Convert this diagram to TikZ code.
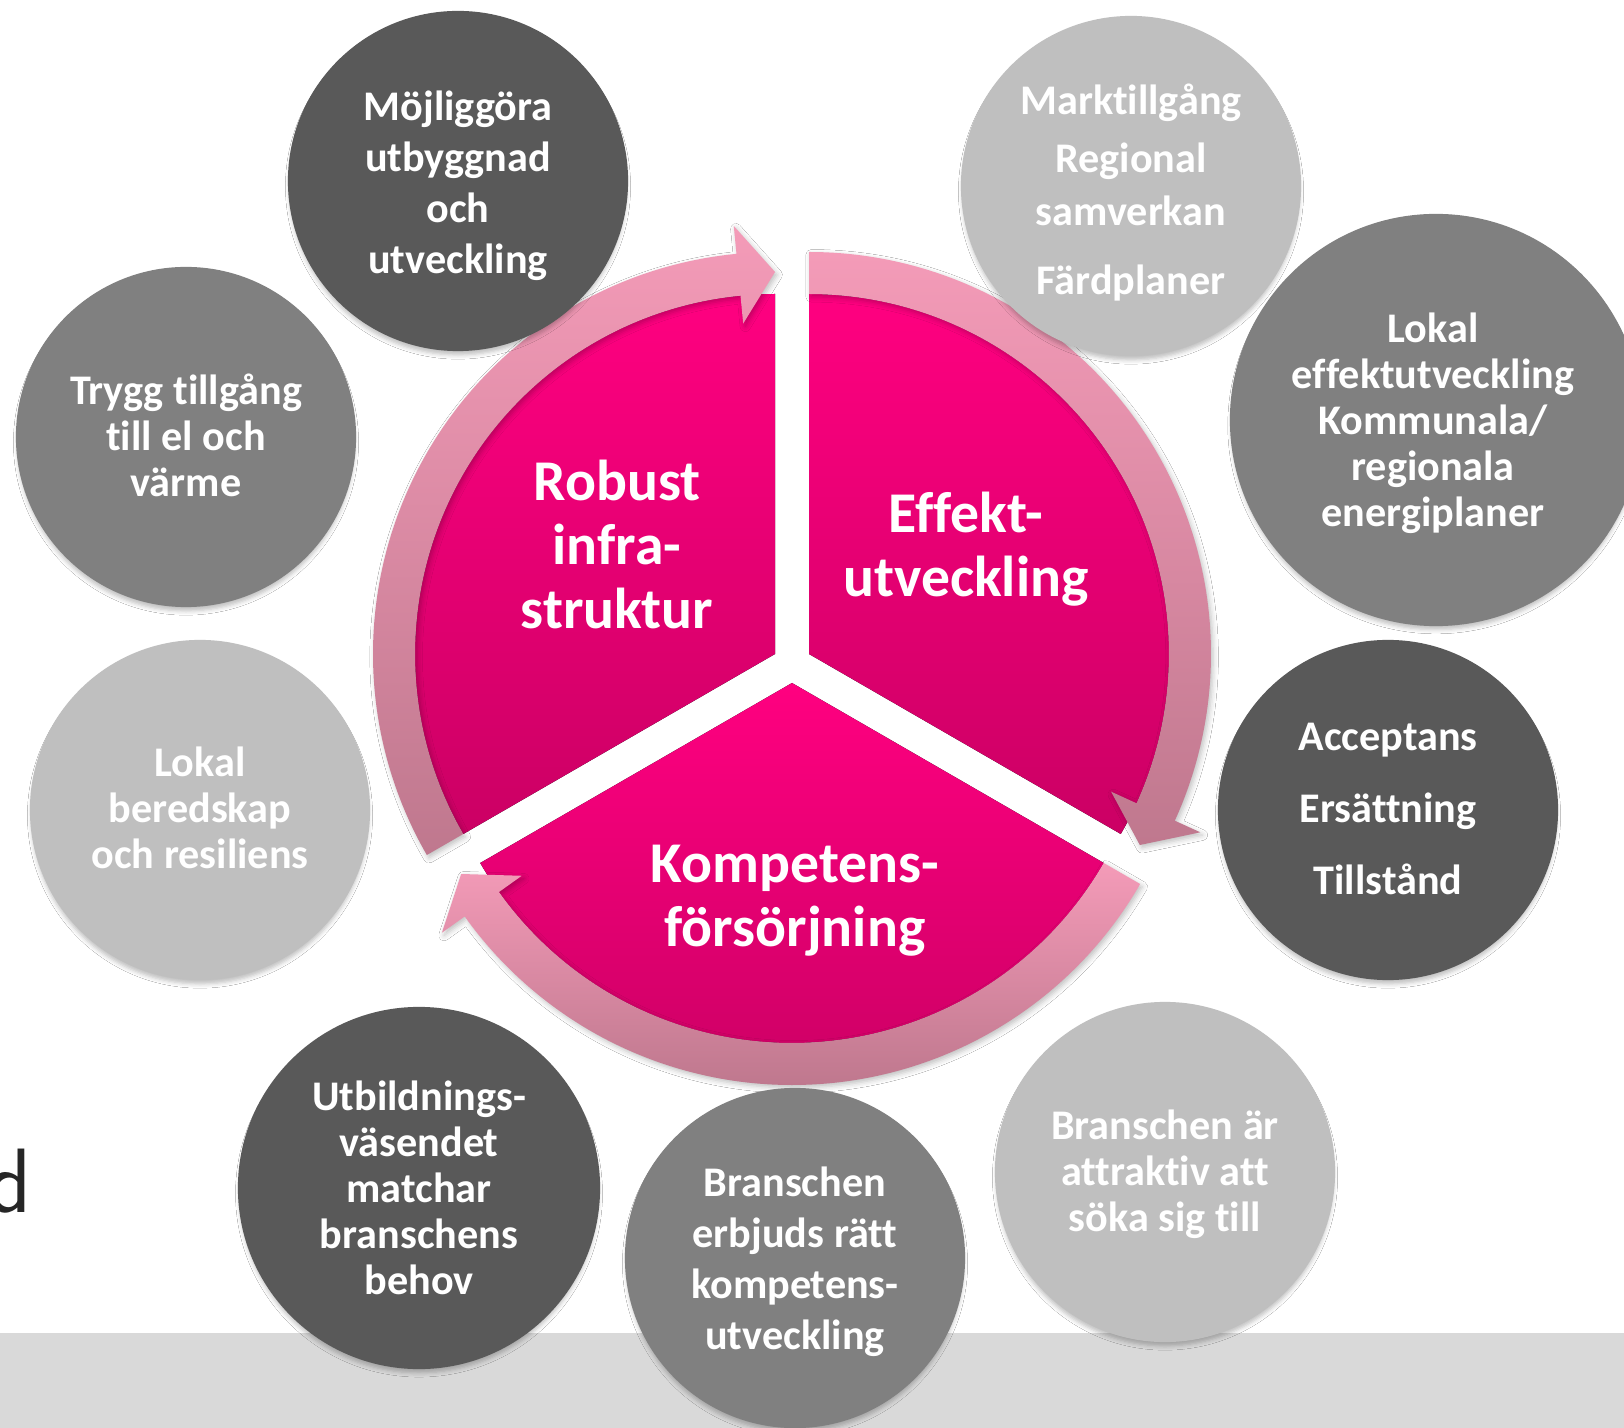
\documentclass[tikz,border=0pt]{standalone}
\usepackage{fontspec}
\setmainfont{Carlito}[Ligatures=NoCommon]
\usetikzlibrary{shadows.blur}

\definecolor{segTop}{HTML}{FF0080}
\definecolor{segBot}{HTML}{CB0064}
\definecolor{ringTop}{HTML}{F49BB8}
\definecolor{ringBot}{HTML}{BF788E}
\definecolor{greyDark}{HTML}{595959}
\definecolor{greyMid}{HTML}{808080}
\definecolor{greyLight}{HTML}{BFBFBF}
\definecolor{barGrey}{HTML}{D9D9D9}
\definecolor{textDark}{HTML}{262626}

\tikzset{
  segment/.style={top color=segTop, bottom color=segBot},
  ringarrow/.style={top color=ringTop, bottom color=ringBot,
    blur shadow={shadow xshift=0.6pt, shadow yshift=-0.8pt, shadow blur radius=1.5pt, shadow opacity=25}},
  seglabel/.style={text=white, align=center, inner sep=0pt,
    font=\bfseries\fontsize{16.4}{18.2}\selectfont},
  bubble/.style={circle, inner sep=0pt, minimum size=3.4cm,
    blur shadow={shadow xshift=0pt, shadow yshift=-1.6pt, shadow blur radius=1.2pt,
      shadow opacity=25, shadow scale=0.99}},
  darkbubble/.style={bubble, fill=greyDark},
  midbubble/.style={bubble, fill=greyMid},
  lightbubble/.style={bubble, fill=greyLight},
  bubbletext/.style={text=white, align=center, inner sep=0pt,
    font=\bfseries\fontsize{12}{13.1}\selectfont}
}

\begin{document}
\begin{tikzpicture}[x=0.01cm, y=0.01cm]
    \useasboundingbox (0,0) rectangle (1624,-1428);
    \clip (0,0) rectangle (1624,-1428);
    \fill [white] (0,0) rectangle (1624,-1428);
    % grey band at the bottom
    \fill [barGrey] (0,-1333) rectangle (1624,-1428);
    \node [anchor=base east, inner sep=0pt, text=textDark,
      font=\sffamily\fontsize{26}{26}\selectfont] (ordslut) at (32,-1212) {d};

    % the three segments
    \fill [segment] (775,-654) -- ++(210:360) arc[start angle=210, end angle=90, radius=360] -- cycle;
    \fill [segment] (809,-654) -- ++(90:360) arc[start angle=90, end angle=-30, radius=360] -- cycle;
    \fill [segment] (792,-683) -- ++(-30:360) arc[start angle=-30, end angle=-150, radius=360] -- cycle;

    % circular arrows
    \begin{scope}[shift={(775,-654)}]
    \path [ringarrow] (210:402) arc[start angle=210, end angle=95.5, radius=402] -- (95.5:430)
      -- (90:382) -- (95.5:332) -- (95.5:360) arc[start angle=95.5, end angle=210, radius=360] -- cycle;
    \end{scope}
    \begin{scope}[shift={(809,-654)}]
    \path [ringarrow] (90:402) arc[start angle=90, end angle=-24.5, radius=402] -- (-24.5:430)
      -- (-30:382) -- (-24.5:332) -- (-24.5:360) arc[start angle=-24.5, end angle=90, radius=360] -- cycle;
    \end{scope}
    \begin{scope}[shift={(792,-683)}]
    \path [ringarrow] (-30:402) arc[start angle=-30, end angle=-144.5, radius=402] -- (-144.5:430)
      -- (-150:382) -- (-144.5:332) -- (-144.5:360) arc[start angle=-144.5, end angle=-30, radius=360] -- cycle;
    \end{scope}

    \node [seglabel] (robust) at (617,-544) {Robust\\infra-\\struktur};
    \node [seglabel] (effekt) at (966,-549) {Effekt-\\utveckling};
    \node [seglabel] (kompetens) at (795,-901) {Kompetens-\\försörjning};

    % the surrounding circles
    \node [darkbubble] (mojlig) at (458,-181) {};
    \node [bubbletext] (mojligtext) at (458,-186) {Möjliggöra\\[1.4pt]utbyggnad\\[1.4pt]och\\[1.4pt]utveckling};
    \node [lightbubble] (mark) at (1131,-186) {};
    \node [bubbletext] (marktext) at (1131,-193) {Marktillgång\\[3.4pt]Regional\\[1.7pt]samverkan\\[6.8pt]Färdplaner};
    \node [midbubble] (trygg) at (186,-437) {};
    \node [bubbletext] (tryggtext) at (186,-435) {Trygg tillgång\\till el och\\värme};
    \node [midbubble, minimum size=4.12cm] (lokaleffekt) at (1436,-420) {};
    \node [bubbletext] (lokaleffekttext) at (1433,-423) {Lokal\\effektutveckling\\Kommunala/\\regionala\\energiplaner};
    \node [lightbubble] (beredskap) at (200,-810) {};
    \node [bubbletext] (beredskaptext) at (200,-808) {Lokal\\beredskap\\och resiliens};
    \node [darkbubble] (acceptans) at (1388,-810) {};
    \node [bubbletext] (acceptanstext) at (1388,-809) {Acceptans\\[7.4pt]Ersättning\\[7.4pt]Tillstånd};
    \node [darkbubble, minimum size=3.62cm] (utbildning) at (419,-1188) {};
    \node [bubbletext] (utbildningtext) at (419,-1188) {Utbildnings-\\väsendet\\matchar\\branschens\\behov};
    \node [midbubble] (erbjuds) at (795,-1258) {};
    \node [bubbletext] (erbjudstext) at (795,-1262) {Branschen\\[1.4pt]erbjuds rätt\\[1.4pt]kompetens-\\[1.4pt]utveckling};
    \node [lightbubble] (attraktiv) at (1165,-1172) {};
    \node [bubbletext] (attraktivtext) at (1165,-1174) {Branschen är\\attraktiv att\\söka sig till};
\end{tikzpicture}
\end{document}
